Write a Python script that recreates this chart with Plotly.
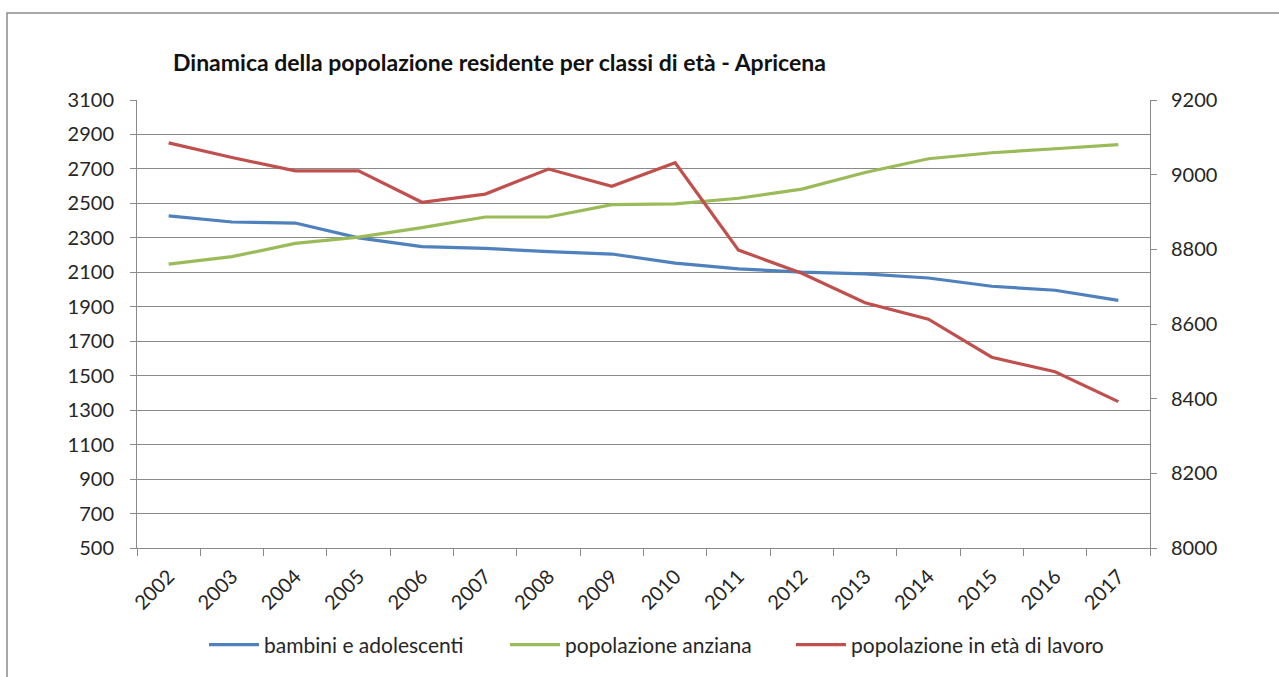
import plotly.graph_objects as go

# Residenti per classi di età, Apricena 2002-2017
anni = ["2002", "2003", "2004", "2005", "2006", "2007", "2008", "2009",
        "2010", "2011", "2012", "2013", "2014", "2015", "2016", "2017"]
bambini_adolescenti = [2427, 2392, 2386, 2300, 2249, 2239, 2220, 2206,
                       2153, 2120, 2101, 2091, 2067, 2019, 1996, 1937]
popolazione_anziana = [2147, 2191, 2268, 2304, 2359, 2421, 2421, 2493,
                       2497, 2530, 2583, 2679, 2759, 2794, 2817, 2841]
popolazione_lavoro = [9085, 9046, 9010, 9010, 8926, 8948, 9015, 8969,
                      9032, 8798, 8736, 8657, 8613, 8511, 8472, 8392]

FONT = "Lato"
GRID = "#8a8a8a"
TEXT = "#262626"

# plot area in pixels
L, R, T, B = 137, 1150, 100, 553
PW, PH = R - L, B - T


def px_x(px):
    return (px - L) / PW


def px_y(py):
    return (B - py) / PH


fig = go.Figure()
fig.add_trace(go.Scatter(x=anni, y=bambini_adolescenti, name="bambini e adolescenti",
                         mode="lines", line=dict(color="#4F81BD", width=3.2),
                         legend="legend"))
fig.add_trace(go.Scatter(x=anni, y=popolazione_anziana, name="popolazione anziana",
                         mode="lines", line=dict(color="#9BBB59", width=3.2),
                         legend="legend2"))
fig.add_trace(go.Scatter(x=anni, y=popolazione_lavoro, name="popolazione in età di lavoro",
                         mode="lines", line=dict(color="#C0504D", width=3.2), yaxis="y2",
                         legend="legend3"))

legend_style = dict(orientation="h", xanchor="left", yanchor="middle", itemwidth=50,
                    font=dict(size=21, color=TEXT), bgcolor="rgba(0,0,0,0)",
                    y=px_y(651))

fig.update_layout(
    width=1279, height=677,
    margin=dict(l=L, r=1279 - R, t=T, b=677 - B),
    paper_bgcolor="white", plot_bgcolor="white",
    showlegend=True,
    font=dict(family=FONT, size=20, color=TEXT),
    title=dict(text="<b>Dinamica della popolazione residente per classi di età - Apricena</b>",
               x=173 / 1279, xanchor="left", xref="container",
               y=1 - 63 / 677, yanchor="middle", yref="container",
               font=dict(family=FONT, size=23, color="#111111")),
    xaxis=dict(type="category", range=[-0.5, len(anni) - 0.5], tickson="boundaries",
               ticks="outside", ticklen=7, tickcolor=GRID, showline=True, linecolor=GRID,
               linewidth=1, showgrid=False, tickangle=-45, tickfont=dict(size=20),
               ticklabelstandoff=8),
    yaxis=dict(range=[500, 3100], tick0=500, dtick=200, ticks="outside", ticklen=6,
               tickcolor=GRID, showline=True, linecolor=GRID, linewidth=1,
               showgrid=True, gridcolor=GRID, gridwidth=1, zeroline=False,
               ticklabelstandoff=12, tickfont=dict(size=20)),
    yaxis2=dict(range=[8000, 9200], tick0=8000, dtick=200, overlaying="y", side="right",
                ticks="outside", ticklen=6, tickcolor=GRID, showline=True,
                linecolor=GRID, linewidth=1, showgrid=False, zeroline=False,
                ticklabelstandoff=10, tickfont=dict(size=20)),
    legend=dict(legend_style, x=px_x(204)),
    legend2=dict(legend_style, x=px_x(505)),
    legend3=dict(legend_style, x=px_x(791)),
    shapes=[dict(type="rect", xref="paper", yref="paper",
                 x0=px_x(7), x1=px_x(1290), y0=px_y(700), y1=px_y(12),
                 line=dict(color="#8c8c8c", width=1.5), layer="below")],
)

fig.write_html("out.html")
